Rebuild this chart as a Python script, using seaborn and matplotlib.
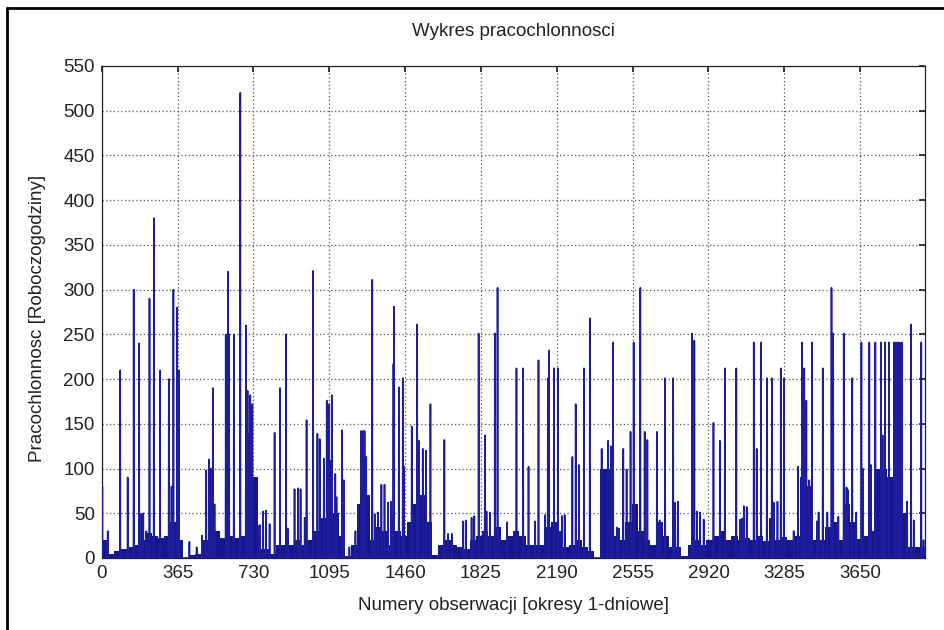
import numpy as np
import pandas as pd
import matplotlib
matplotlib.use("Agg")
import matplotlib.pyplot as plt
from matplotlib.lines import Line2D
import seaborn as sns

# ---------------- data ----------------
n_days = 3962
title = "Wykres pracochlonnosci"
x_label = "Numery obserwacji [okresy 1-dniowe]"
y_label = "Pracochlonnosc [Roboczogodziny]"
x_ticks = [0, 365, 730, 1095, 1460, 1825, 2190, 2555, 2920, 3285, 3650]
y_ticks = [0, 50, 100, 150, 200, 250, 300, 350, 400, 450, 500, 550]

# isolated daily peaks: observation number and labour-hours
spike_days = [3, 29, 89, 125, 154, 180, 190, 200, 215, 230, 251, 281, 323, 336, 345,
              363, 371, 422, 457, 483, 503, 516, 525, 535, 543, 597, 608, 613, 636,
              667, 694, 702, 715, 725, 752, 762, 776, 790, 808, 832, 858, 887, 895,
              928, 945, 957, 977, 986, 1017, 1038, 1049, 1069, 1083, 1095, 1108, 1124,
              1130, 1157, 1165, 1192, 1221, 1249, 1257, 1265, 1273, 1302, 1314, 1330,
              1346, 1361, 1378, 1393, 1404, 1406, 1430, 1449, 1455, 1492, 1518, 1526,
              1545, 1561, 1582, 1649, 1667, 1686, 1740, 1753, 1780, 1793, 1814, 1844,
              1852, 1868, 1892, 1905, 1950, 1996, 2028, 2054, 2086, 2102, 2133, 2147,
              2153, 2177, 2196, 2215, 2228, 2265, 2281, 2297, 2321, 2349, 2406, 2437,
              2450, 2461, 2480, 2490, 2510, 2526, 2545, 2560, 2592, 2613, 2626, 2672,
              2685, 2711, 2750, 2760, 2773, 2841, 2852, 2865, 2880, 2897, 2944, 2975,
              2999, 3054, 3073, 3082, 3090, 3104, 3138, 3152, 3173, 3201, 3225, 3234,
              3252, 3268, 3283, 3330, 3351, 3370, 3381, 3391, 3405, 3418, 3443, 3450,
              3470, 3492, 3512, 3520, 3545, 3571, 3584, 3587, 3592, 3612, 3631, 3656,
              3662, 3694, 3702, 3723, 3748, 3750, 3758, 3770, 3789, 3813, 3822, 3831,
              3840, 3850, 3876, 3895, 3908, 3944, 3955]
spike_values = [80, 30, 210, 90, 300, 240, 49, 50, 30, 290, 380, 210, 200, 80, 300,
                280, 210, 18, 12, 25, 98, 110, 100, 190, 60, 250, 320, 250, 250,
                520, 260, 187, 182, 172, 36, 37, 52, 53, 38, 140, 190, 250, 33,
                77, 78, 77, 45, 154, 321, 139, 133, 111, 176, 172, 182, 94,
                68, 143, 87, 12, 30, 142, 142, 142, 113, 311, 49, 51,
                82, 82, 62, 63, 217, 281, 191, 201, 102, 147, 261, 131,
                122, 120, 172, 132, 27, 27, 41, 42, 45, 47, 251, 137,
                52, 51, 251, 302, 40, 212, 212, 102, 41, 221, 48, 201,
                232, 212, 212, 47, 48, 113, 172, 104, 212, 268, 122, 131,
                125, 241, 34, 33, 122, 99, 141, 241, 302, 141, 132, 141,
                42, 201, 201, 62, 63, 251, 243, 52, 51, 43, 151, 131,
                212, 212, 43, 44, 58, 57, 241, 122, 241, 201, 201, 62,
                63, 212, 201, 30, 102, 241, 212, 176, 87, 241, 41, 51,
                212, 51, 302, 251, 46, 251, 79, 77, 76, 201, 51, 241,
                100, 241, 104, 241, 65, 241, 137, 241, 241, 241, 241, 241,
                241, 241, 63, 261, 42, 241, 20]

# height of the dense low-level band, per 30-day block
floor_values = [20, 5, 8, 10, 12, 15, 20, 28, 25, 22, 25, 40, 20, 0, 3, 4,
                20, 35, 30, 22, 25, 22, 25, 140, 90, 10, 10, 5, 14, 15, 14, 20,
                15, 20, 30, 45, 110, 50, 25, 2, 15, 60, 70, 20, 35, 30, 15, 30,
                25, 40, 60, 70, 40, 3, 15, 20, 15, 12, 10, 20, 25, 30, 25, 35,
                20, 25, 30, 25, 15, 14, 14, 35, 40, 30, 12, 15, 20, 12, 8, 0,
                100, 100, 25, 20, 40, 60, 30, 20, 14, 40, 25, 12, 12, 2, 15, 20,
                15, 20, 25, 30, 20, 25, 20, 22, 20, 25, 19, 45, 20, 23, 20, 25,
                90, 80, 20, 20, 35, 40, 20, 60, 40, 21, 25, 30, 100, 100, 90, 60,
                50, 12, 12, 12]
floor_block = 30

# ---------------- build tables ----------------
series = np.zeros(n_days)
for d, v in zip(spike_days, spike_values):
    series[d] = max(series[d], v)
df = pd.DataFrame({"day": np.arange(n_days), "value": series})
edges = np.arange(0, floor_block * len(floor_values) + 1, floor_block)

# ---------------- plot ----------------
sns.set_theme(style="white")
plt.rcParams["font.family"] = ["Liberation Sans", "DejaVu Sans"]

fig = plt.figure(figsize=(9.44, 6.3), dpi=100, facecolor="white")
ax = fig.add_axes([101.7 / 944, 1 - 558 / 630, (925 - 101.7) / 944, (558 - 66) / 630])
ax.set_facecolor("white")

line_col = "#1e1e9c"
ax.stairs(floor_values, edges, fill=True, color="#16168e", linewidth=0, zorder=2)
sns.lineplot(data=df, x="day", y="value", ax=ax, color=line_col, linewidth=1.2,
             estimator=None, zorder=3)

ax.set_xlim(0, n_days)
ax.set_ylim(0, 550)
ax.set_xticks(x_ticks)
ax.set_yticks(y_ticks)
ax.set_xticklabels([str(t) for t in x_ticks])
ax.set_yticklabels([str(t) for t in y_ticks])
ax.grid(True, linestyle=(0, (1, 2)), color="#555555", linewidth=0.9, zorder=1)
ax.set_axisbelow(True)
ax.tick_params(direction="in", length=4, top=True, right=True, labelsize=13.5,
               colors="#222222", pad=5)
for s in ax.spines.values():
    s.set_color("#222222")
    s.set_linewidth(0.9)
ax.set_xlabel("")
ax.set_ylabel("")

fig.text(513 / 944, 1 - 32 / 630, title, ha="center", va="center", fontsize=13.5, color="#222222")
fig.text(513 / 944, 1 - 606 / 630, x_label, ha="center", va="center", fontsize=13.5, color="#222222")
fig.text(38 / 944, 1 - 318 / 630, y_label, ha="center", va="center", rotation=90,
         fontsize=13.5, color="#222222")

# scanned page frame (left and top edges)
fig.add_artist(Line2D([7 / 944, 7 / 944], [0, 1 - 8 / 630], transform=fig.transFigure,
                      color="black", linewidth=2))
fig.add_artist(Line2D([7 / 944, 1], [1 - 8 / 630, 1 - 8 / 630], transform=fig.transFigure,
                      color="black", linewidth=2))

fig.savefig("out.png", dpi=100, facecolor="white")
